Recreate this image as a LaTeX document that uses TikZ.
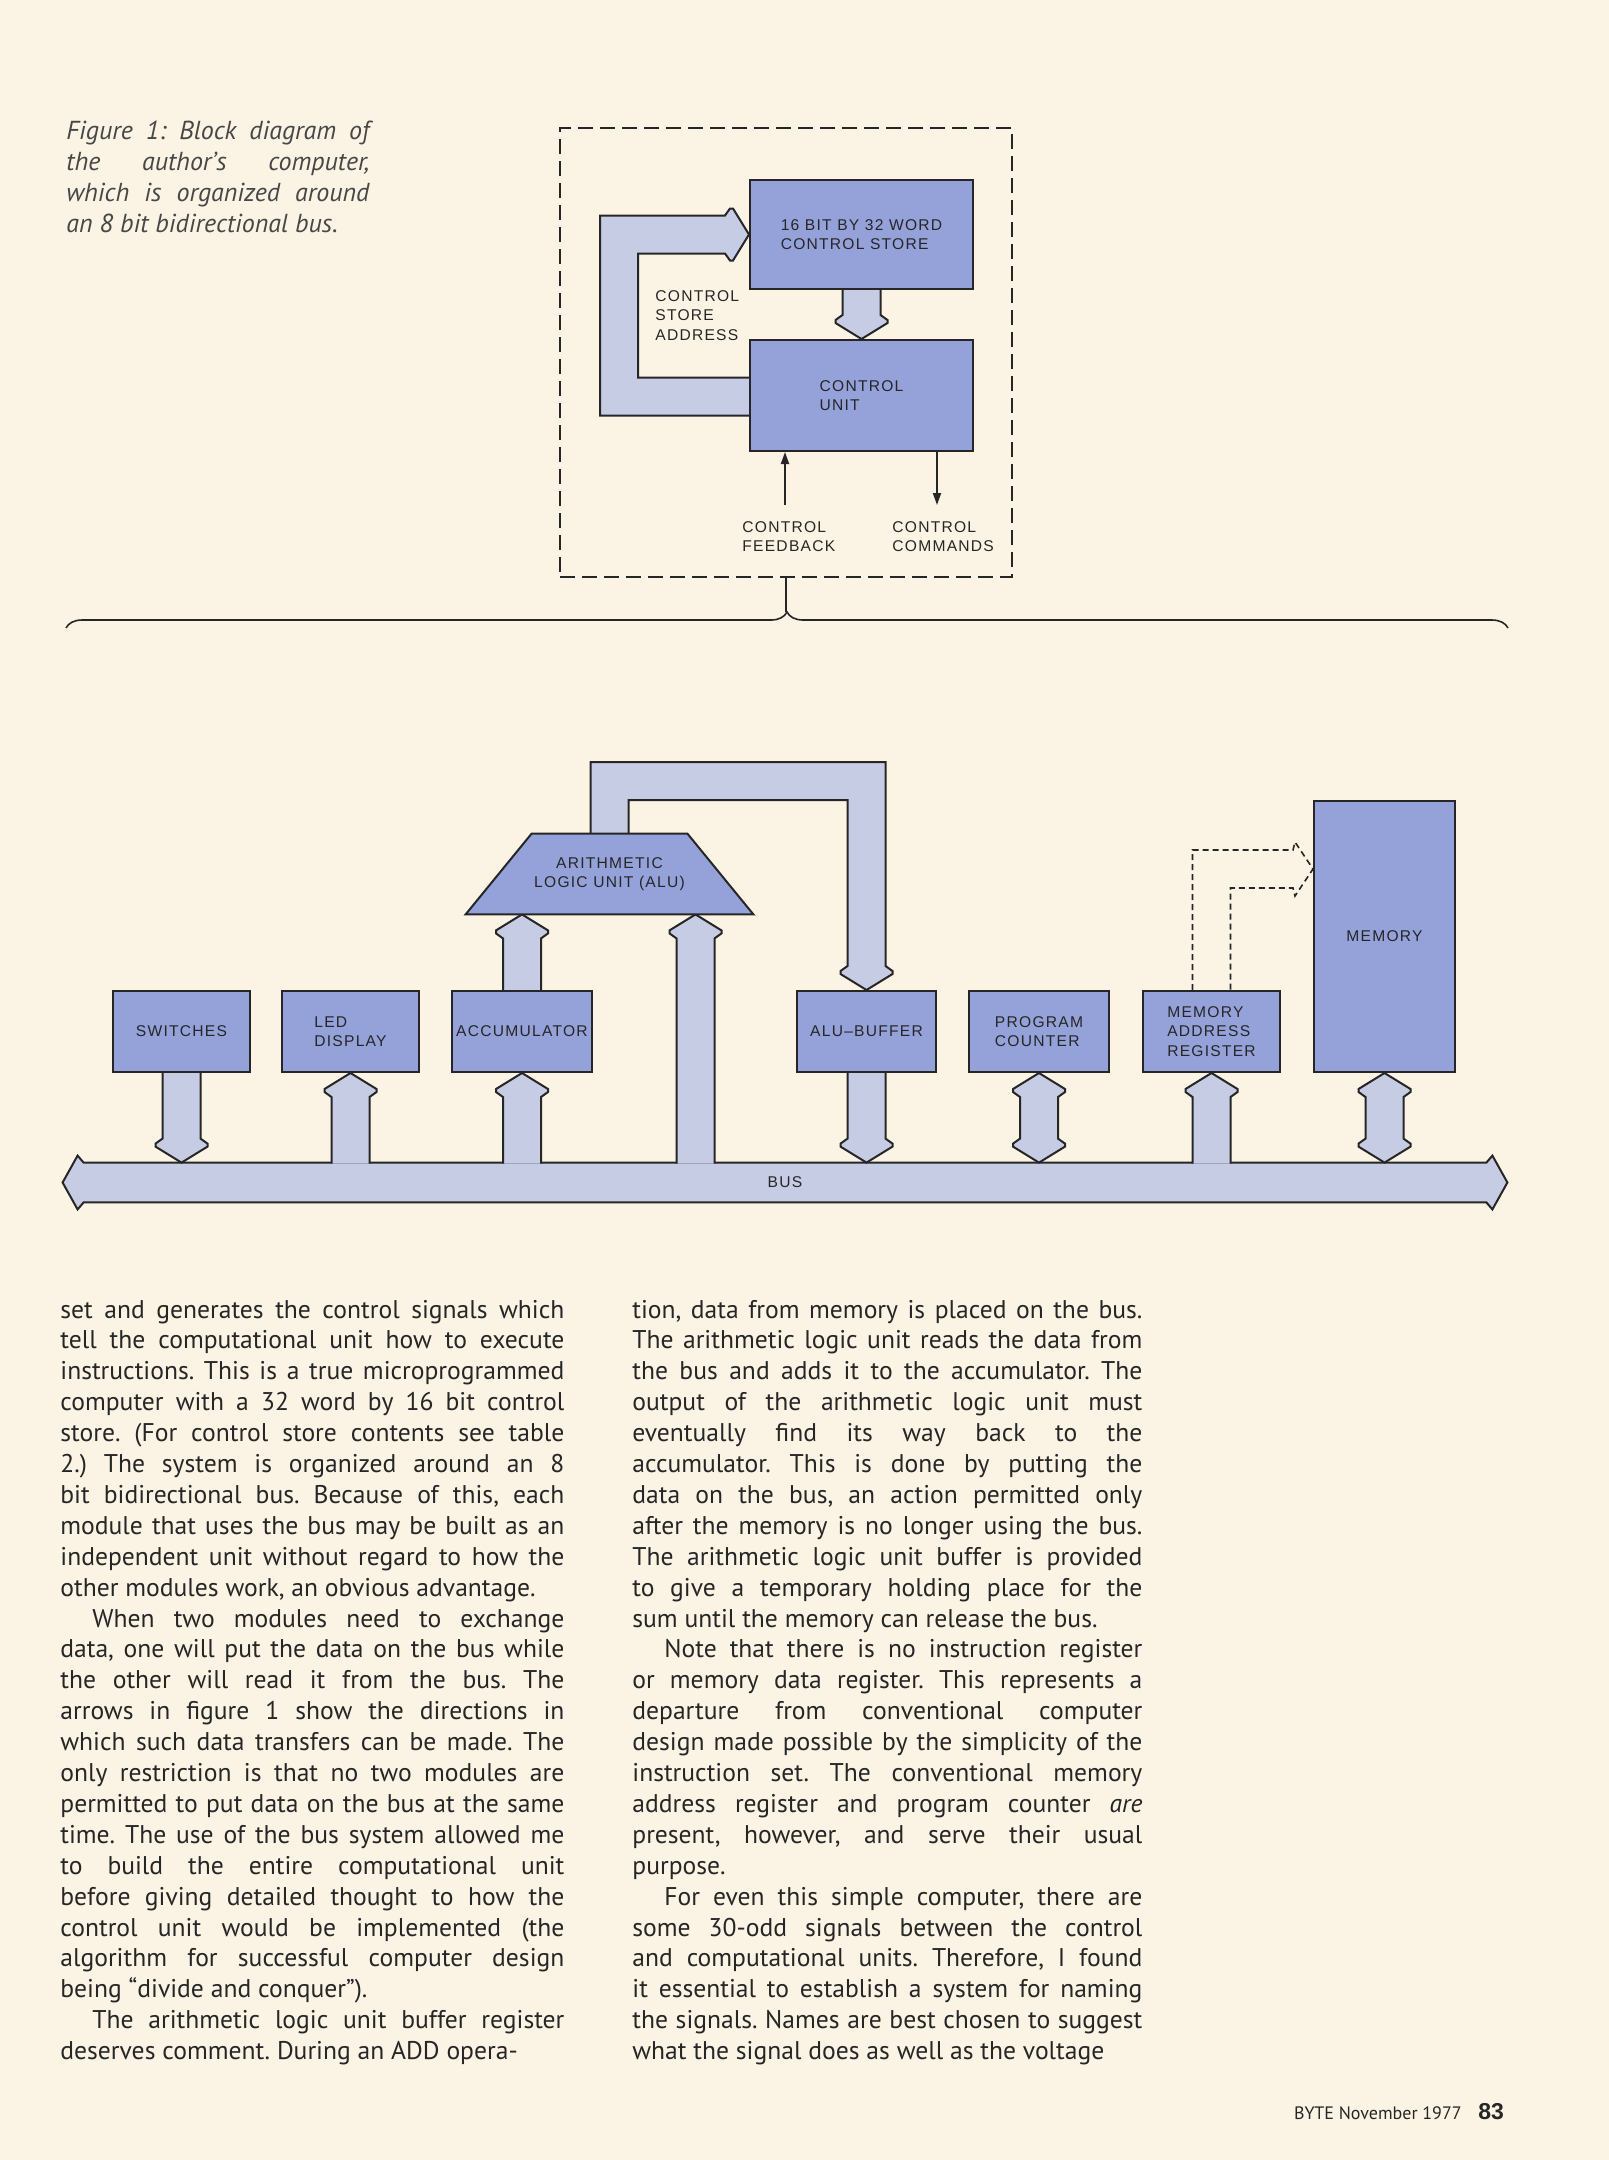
\documentclass[tikz,border=0pt]{standalone}
\usepackage{fontspec}
\setmainfont{PT Sans}
\newfontfamily\diafont[LetterSpace=8]{Liberation Sans}
\newfontfamily\folfont{Liberation Sans}
\usetikzlibrary{arrows.meta, positioning, calc, decorations.pathreplacing}

\definecolor{paper}{RGB}{251,244,228}
\definecolor{boxblue}{RGB}{149,162,218}
\definecolor{pipeblue}{RGB}{199,204,229}
\definecolor{ink}{RGB}{38,38,38}

\tolerance=9999
\hyphenpenalty=10000
\exhyphenpenalty=10000
\frenchspacing

\pgfdeclarelayer{back}
\pgfdeclarelayer{pipes}
\pgfsetlayers{back,pipes,main}

% fat arrows: head up at #1, tail at #2
\newcommand\pipeup[2]{%
  \filldraw[pipe] ($(#1 |- #2)+(-19,1)$) -- ($(#1)+(-19,24)$)
    -- ($(#1)+(-26,19)$) -- ($(#1)+(-26,16)$) -- (#1)
    -- ($(#1)+(26,16)$) -- ($(#1)+(26,19)$) -- ($(#1)+(19,24)$)
    -- ($(#1 |- #2)+(19,1)$);}
% head down at #1, tail at #2
\newcommand\pipedown[2]{%
  \filldraw[pipe] ($(#1 |- #2)+(-19,-1)$) -- ($(#1)+(-19,-24)$)
    -- ($(#1)+(-26,-19)$) -- ($(#1)+(-26,-16)$) -- (#1)
    -- ($(#1)+(26,-16)$) -- ($(#1)+(26,-19)$) -- ($(#1)+(19,-24)$)
    -- ($(#1 |- #2)+(19,-1)$);}
% heads at both ends, #1 top tip, #2 bottom tip
\newcommand\pipeboth[2]{%
  \filldraw[pipe] (#1) -- ($(#1)+(26,16)$) -- ($(#1)+(26,19)$) -- ($(#1)+(19,24)$)
    -- ($(#2)+(19,-24)$) -- ($(#2)+(26,-19)$) -- ($(#2)+(26,-16)$) -- (#2)
    -- ($(#2)+(-26,-16)$) -- ($(#2)+(-26,-19)$) -- ($(#2)+(-19,-24)$)
    -- ($(#1)+(-19,24)$) -- ($(#1)+(-26,19)$) -- ($(#1)+(-26,16)$) -- cycle;}

\begin{document}
\begin{tikzpicture}[x=0.5pt, y=-0.5pt,
    every node/.style={text=ink},
    diag/.style={font=\diafont\fontsize{7.8}{9.75}\selectfont},
    blk/.style={diag, draw=ink, fill=boxblue, line width=1pt, align=left,
                minimum width=68.5pt, minimum height=40.5pt, inner sep=0pt},
    face/.style={draw=ink, fill=boxblue, line width=1pt},
    lbl/.style={diag, align=left, inner sep=0pt},
    pipe/.style={draw=ink, fill=pipeblue, line width=1pt},
    dashpipe/.style={draw=ink, line width=0.8pt, dash pattern=on 3pt off 2pt},
    dashbox/.style={draw=ink, line width=1pt, dash pattern=on 7.5pt off 3.5pt},
    thinarr/.style={draw=ink, line width=0.9pt, -{Triangle[length=6pt,width=4pt]}},
    body/.style={font=\fontsize{12.8}{15.45}\selectfont, text width=252pt,
                 align=justify, inner sep=0pt, anchor=base west},
    capt/.style={font=\itshape\fontsize{13}{15.5}\selectfont, text width=151.5pt,
                 align=justify, inner sep=0pt, anchor=base west, text=ink!85}
]
\useasboundingbox (0,0) rectangle (1609,2160);
\begin{pgfonlayer}{back}
  \fill[paper] (0,0) rectangle (1609,2160);
\end{pgfonlayer}

% caption
\node[capt] (cap) at (66,139) {Figure 1: Block diagram of\linebreak
the author’s computer,\linebreak
which is organized around\linebreak
an 8 bit bidirectional bus.};

% control section
\node[dashbox, minimum width=226pt, minimum height=224.5pt, inner sep=0pt] (ctl) at (786,352.5) {};
\node[blk, minimum width=111.5pt, minimum height=54.5pt] (cs) at (861.5,234.5) {16 BIT BY 32 WORD\\CONTROL STORE};
\node[blk, minimum width=111.5pt, minimum height=55.5pt, below=24.5pt of cs] (cu) {CONTROL\\UNIT};
\node[lbl, anchor=west] (csa) at (655,315.5) {CONTROL\\STORE\\ADDRESS};
\node[lbl, anchor=north west] (fb) at (742,521) {CONTROL\\FEEDBACK};
\node[lbl, anchor=north west] (cmd) at (892,521) {CONTROL\\COMMANDS};
\coordinate (fbend) at (785,505);
\coordinate (cmdend) at (937,505);
\draw[thinarr] (fbend) -- (fbend |- cu.south);
\draw[thinarr] (cmdend |- cu.south) -- (cmdend);

% brace
\draw[draw=ink, line width=0.8pt, decorate, decoration={brace, amplitude=8pt}] (66,628) -- (1508,628);
\coordinate (brtip) at (787,612);
\draw[draw=ink, line width=0.8pt] (ctl.south) -- (ctl.south |- brtip);

% computational section
\node[blk] (sw) at (181.5,1031.5) {SWITCHES};
\node[blk, right=15pt of sw] (led) {LED\\DISPLAY};
\node[blk, minimum width=70pt, right=15.5pt of led] (acc) {ACCUMULATOR};
\node[blk, minimum width=69.5pt, right=101.5pt of acc] (ab) {ALU\textendash BUFFER};
\node[blk, minimum width=70pt, right=15.5pt of ab] (pc) {PROGRAM\\COUNTER};
\node[blk, right=16pt of pc] (mar) {MEMORY\\ADDRESS\\REGISTER};
\node[blk, minimum width=70.5pt, minimum height=135.5pt, right=16pt of mar.south east, anchor=south west] (mem) {MEMORY};
\node[diag, align=center, minimum width=143.5pt, minimum height=40pt, inner sep=0pt] (alu) at (609.5,874) {ARITHMETIC\\LOGIC UNIT (ALU)};
\node[diag, minimum width=701pt, minimum height=19.5pt, inner sep=0pt] (bus) at (785,1182.5) {BUS};

\coordinate (swtip) at (sw.south |- bus.north);
\coordinate (abtip) at (ab.south |- bus.north);
\coordinate (pctip) at (pc.south |- bus.north);
\coordinate (memtip) at (mem.south |- bus.north);
\coordinate (acctip) at (acc.north |- alu.south);
\coordinate (aluin) at ($(alu.south)+(86,0)$);
\coordinate (memin) at ($(mem.north west)+(0,69)$);

\begin{pgfonlayer}{pipes}
  \filldraw[pipe] ($(bus.west)+(-21,0)$) -- ($(bus.north west)+(-6,-7)$) -- (bus.north west)
    -- (bus.north east) -- ($(bus.north east)+(6,-7)$) -- ($(bus.east)+(21,0)$)
    -- ($(bus.south east)+(6,7)$) -- (bus.south east) -- (bus.south west)
    -- ($(bus.south west)+(-6,7)$) -- cycle;
  % control store address loop
  \filldraw[pipe] ($(cu.west)+(1,-18)$) -| ($(cs.west)+(-111,19)$) -- ($(cs.west)+(-24,19)$)
    -- ($(cs.west)+(-19,26)$) -- ($(cs.west)+(-16,26)$) -- (cs.west)
    -- ($(cs.west)+(-16,-26)$) -- ($(cs.west)+(-19,-26)$) -- ($(cs.west)+(-24,-19)$)
    -| ($(cu.west)+(-149,20)$) -- ($(cu.west)+(1,20)$);
  \pipedown{cu.north}{cs.south}
  \pipedown{swtip}{sw.south}
  \pipeup{led.south}{bus.north}
  \pipeup{acc.south}{bus.north}
  \pipeup{aluin}{bus.north}
  \pipeup{acctip}{acc.north}
  % alu output to buffer
  \filldraw[pipe] ($(alu.north)+(-19,1)$) |- ($(ab.north)+(19,-228)$) -- ($(ab.north)+(19,-24)$)
    -- ($(ab.north)+(26,-19)$) -- ($(ab.north)+(26,-16)$) -- (ab.north)
    -- ($(ab.north)+(-26,-16)$) -- ($(ab.north)+(-26,-19)$) -- ($(ab.north)+(-19,-24)$)
    -- ($(ab.north)+(-19,-190)$) -| ($(alu.north)+(19,1)$);
  \pipedown{abtip}{ab.south}
  \pipeboth{pc.south}{pctip}
  \pipeup{mar.south}{bus.north}
  \pipeboth{mem.south}{memtip}
  % alu body
  \filldraw[face] (alu.south west) -- (alu.south east) -- ($(alu.north east)+(-66,0)$)
    -- ($(alu.north west)+(66,0)$) -- cycle;
\end{pgfonlayer}

% address lines to memory
\draw[dashpipe] ($(mar.north)+(-19,0)$) |- ($(memin)+(-20,-19)$) -- ($(memin)+(-18,-27)$)
  -- (memin) -- ($(memin)+(-18,27)$) -- ($(memin)+(-20,19)$) -| ($(mar.north)+(19,0)$);

% article text
\node[body] (colA) at (60,1318) {\parindent=16pt set and generates the control signals which\linebreak
tell the computational unit how to execute\linebreak
instructions. This is a true microprogrammed\linebreak
computer with a 32 word by 16 bit control\linebreak
store. (For control store contents see table\linebreak
2.) The system is organized around an 8\linebreak
bit bidirectional bus. Because of this, each\linebreak
module that uses the bus may be built as an\linebreak
independent unit without regard to how the\linebreak
other modules work, an obvious advantage.\par
When two modules need to exchange\linebreak
data, one will put the data on the bus while\linebreak
the other will read it from the bus. The\linebreak
arrows in figure 1 show the directions in\linebreak
which such data transfers can be made. The\linebreak
only restriction is that no two modules are\linebreak
permitted to put data on the bus at the same\linebreak
time. The use of the bus system allowed me\linebreak
to build the entire computational unit\linebreak
before giving detailed thought to how the\linebreak
control unit would be implemented (the\linebreak
algorithm for successful computer design\linebreak
being “divide and conquer”).\par
\parfillskip=0pt The arithmetic logic unit buffer register\linebreak
deserves comment. During an ADD opera-};

\node[body, text width=255pt] (colB) at (632,1318) {\parindent=16pt tion, data from memory is placed on the bus.\linebreak
The arithmetic logic unit reads the data from\linebreak
the bus and adds it to the accumulator. The\linebreak
output of the arithmetic logic unit must\linebreak
eventually find its way back to the\linebreak
accumulator. This is done by putting the\linebreak
data on the bus, an action permitted only\linebreak
after the memory is no longer using the bus.\linebreak
The arithmetic logic unit buffer is provided\linebreak
to give a temporary holding place for the\linebreak
sum until the memory can release the bus.\par
Note that there is no instruction register\linebreak
or memory data register. This represents a\linebreak
departure from conventional computer\linebreak
design made possible by the simplicity of the\linebreak
instruction set. The conventional memory\linebreak
address register and program counter \emph{are}\linebreak
present, however, and serve their usual\linebreak
purpose.\par
For even this simple computer, there are\linebreak
some 30-odd signals between the control\linebreak
and computational units. Therefore, I found\linebreak
it essential to establish a system for naming\linebreak
the signals. Names are best chosen to suggest\linebreak
\parfillskip=0pt what the signal does as well as the voltage};

% footer
\node[anchor=base west, font=\fontsize{9}{11}\selectfont] (byte) at (1287,2119) {BYTE November 1977};
\node[anchor=base east, font=\folfont\bfseries\fontsize{11.5}{13}\selectfont] (pgno) at (1511,2119) {83};
\end{tikzpicture}
\end{document}
